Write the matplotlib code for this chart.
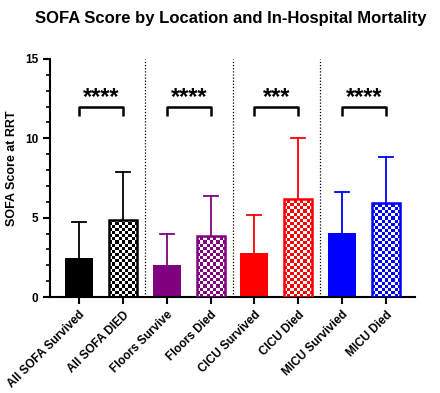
import matplotlib
matplotlib.use('Agg')
import matplotlib.pyplot as plt
import numpy as np
from matplotlib.ticker import MultipleLocator

plt.rcParams['font.family'] = ['Liberation Sans', 'DejaVu Sans']
plt.rcParams['font.weight'] = 'bold'

labels = ['All SOFA Survived', 'All SOFA DIED', 'Floors Survive', 'Floors Died',
          'CICU Survived', 'CICU Died', 'MICU Survivied', 'MICU Died']
means = [2.45, 4.85, 2.0, 3.85, 2.75, 6.15, 4.05, 5.9]
err_tops = [4.7, 7.85, 3.95, 6.35, 5.2, 10.0, 6.6, 8.85]
colors = ['#000000', '#000000', '#800080', '#800080',
          '#ff0000', '#ff0000', '#0000ff', '#0000ff']
died = [False, True, False, True, False, True, False, True]
sig_pairs = [(0, 1, '****'), (2, 3, '****'), (4, 5, '***'), (6, 7, '****')]
dividers = [1.5, 3.5, 5.5]

fig = plt.figure(figsize=(4.4, 3.93), dpi=100)
ax = fig.add_axes([0.114, 0.244, 0.829, 0.606])

x = np.arange(len(labels))
width = 0.64
ymax = 15
cap = 0.16

# error bars (upper only)
for xi, m, t, c in zip(x, means, err_tops, colors):
    ax.plot([xi, xi], [m, t], color=c, lw=1.3, zorder=1)
    ax.plot([xi - cap, xi + cap], [t, t], color=c, lw=1.3, zorder=1)

bars = ax.bar(x, means, width=width, color=colors, zorder=2)
ax.set_xlim(-0.66, 7.66)
ax.set_ylim(0, ymax)

# checkered fill for the "died" bars
px_per_unit = 0.606 * 393 / ymax
for b, d, c in zip(bars, died, colors):
    if not d:
        continue
    b.set_edgecolor(c)
    b.set_linewidth(1.8)
    h = b.get_height()
    nx = 9
    ny = max(1, int(round(h * px_per_unit / 3.1)))
    grid = (np.add.outer(np.arange(ny), np.arange(nx)) % 2).astype(float)
    rgb = np.array(matplotlib.colors.to_rgb(c))
    img = np.ones((ny, nx, 3))
    img[grid == 1] = rgb
    x0 = b.get_x()
    im = ax.imshow(img, extent=[x0, x0 + b.get_width(), 0, ny * 3.1 / px_per_unit],
                   origin='lower', aspect='auto', interpolation='nearest', zorder=2)
    im.set_clip_path(b)
    b.set_zorder(3)
    b.set_facecolor('none')

ax.set_xlim(-0.66, 7.66)
ax.set_ylim(0, ymax)

for dx in dividers:
    ax.plot([dx, dx], [0, ymax], color='black', lw=0.9, ls=(0, (1, 1.5)), zorder=0)

for i, j, s in sig_pairs:
    ax.plot([i, i, j, j], [11.4, 12, 12, 11.4], color='black', lw=1.8,
            solid_capstyle='butt', zorder=4)
    ax.text((i + j) / 2, 12.55, s, ha='center', va='center', fontsize=17,
            fontweight='bold')

ax.spines['top'].set_visible(False)
ax.spines['right'].set_visible(False)
ax.spines['left'].set_linewidth(1.5)
ax.spines['bottom'].set_linewidth(1.5)
ax.set_yticks([0, 5, 10, 15])
ax.yaxis.set_minor_locator(MultipleLocator(1))
ax.tick_params(axis='both', which='major', width=1.5, length=5, labelsize=8.5)
ax.tick_params(axis='y', which='minor', width=1.2, length=3)
ax.set_xticks(x)
ax.set_xticklabels(labels, rotation=45, ha='right', rotation_mode='anchor',
                   fontsize=8.5, fontweight='bold')
ax.set_ylabel('SOFA Score at RRT', fontsize=9, fontweight='bold')
ax.yaxis.set_label_coords(-0.088, 0.54)
fig.suptitle('SOFA Score by Location and In-Hospital Mortality', x=0.525, y=0.972,
             fontsize=12, fontweight='bold')

fig.savefig('out.png', dpi=100)
